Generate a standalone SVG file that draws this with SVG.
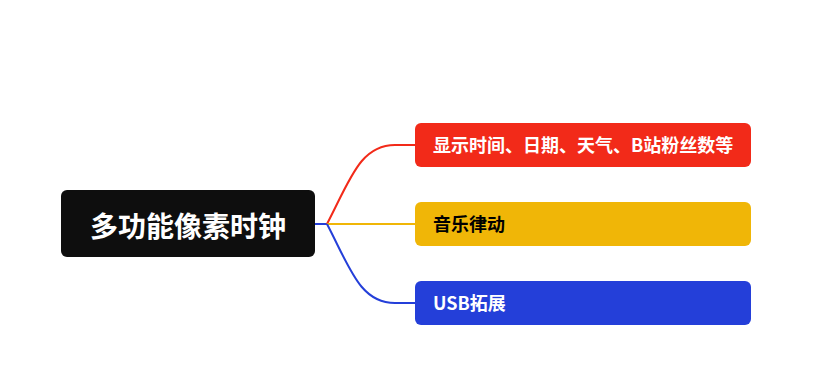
<svg xmlns="http://www.w3.org/2000/svg" width="839" height="379" viewBox="0 0 839 379">
<style>
.t{font-family:"Noto Sans CJK SC","Noto Sans",sans-serif;font-weight:bold}
.c{fill:none;stroke-width:2}
</style>
<rect width="839" height="379" fill="#ffffff"/>
<g id="connectors">
<path class="c" stroke="#243FD9" d="M315,224 L327,224"/>
<path class="c" stroke="#F22A19" d="M327,224 C350,180 360,145 395,145 L415,145"/>
<path class="c" stroke="#F0B607" d="M327,224 L415,224"/>
<path class="c" stroke="#243FD9" d="M327,224 C350,268 360,303 395,303 L415,303"/>
</g>
<g id="root">
<rect x="61" y="190" width="254" height="67" rx="6" fill="#0E0E0E"/>
<text class="t" x="188" y="237" text-anchor="middle" font-size="28" fill="#ffffff">多功能像素时钟</text>
</g>
<g id="n1">
<rect x="415" y="123" width="336" height="44" rx="6" fill="#F22A19"/>
<text class="t" x="433" y="152" font-size="18" fill="#ffffff">显示时间、日期、天气、B站粉丝数等</text>
</g>
<g id="n2">
<rect x="415" y="202" width="336" height="44" rx="6" fill="#F0B607"/>
<text class="t" x="433" y="231" font-size="18" fill="#000000">音乐律动</text>
</g>
<g id="n3">
<rect x="415" y="281" width="336" height="44" rx="6" fill="#243FD9"/>
<text class="t" x="433" y="310" font-size="18" fill="#ffffff">USB拓展</text>
</g>
</svg>
